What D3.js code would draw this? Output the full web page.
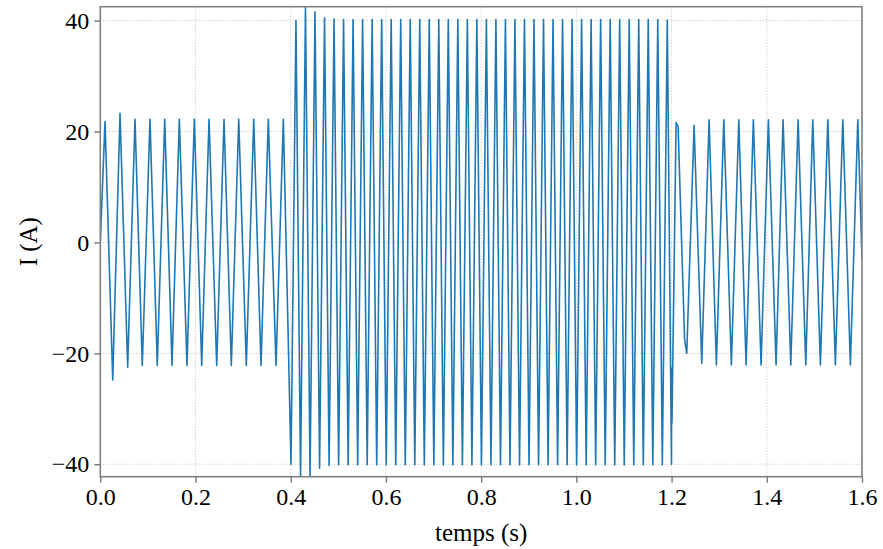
<!DOCTYPE html>
<html>
<head>
<meta charset="utf-8">
<script src="https://cdn.jsdelivr.net/npm/d3@7"></script>
<style>
  html, body { margin: 0; padding: 0; background: #fff; }
  svg { display: block; }
</style>
</head>
<body>
<svg id="chart" width="883" height="549"></svg>
<script>
// ---- data (vertices of the current waveform) ----
const timeS = [
  0.0000, 0.0099, 0.0261, 0.0414, 0.0575, 0.0729, 0.0882, 0.1044, 0.1197, 0.1353,
  0.1506, 0.1660, 0.1821, 0.1975, 0.2130, 0.2284, 0.2445, 0.2599, 0.2752, 0.2908,
  0.3067, 0.3223, 0.3376, 0.3529, 0.3691, 0.3845,
  0.4006, 0.4110, 0.4206, 0.4310, 0.4406, 0.4510, 0.4606, 0.4710, 0.4806, 0.4910,
  0.5006, 0.5110, 0.5206, 0.5310, 0.5406, 0.5510, 0.5606, 0.5710, 0.5806, 0.5910,
  0.6006, 0.6110, 0.6206, 0.6310, 0.6406, 0.6510, 0.6606, 0.6710, 0.6806, 0.6910,
  0.7006, 0.7110, 0.7206, 0.7310, 0.7406, 0.7510, 0.7606, 0.7710, 0.7806, 0.7910,
  0.8006, 0.8110, 0.8206, 0.8310, 0.8406, 0.8510, 0.8606, 0.8710, 0.8806, 0.8910,
  0.9006, 0.9110, 0.9206, 0.9310, 0.9406, 0.9510, 0.9606, 0.9710, 0.9806, 0.9910,
  1.0006, 1.0110, 1.0206, 1.0310, 1.0406, 1.0510, 1.0606, 1.0710, 1.0806, 1.0910,
  1.1006, 1.1110, 1.1206, 1.1310, 1.1406, 1.1510, 1.1606, 1.1710, 1.1806, 1.1910,
  1.1998, 1.2002, 1.2008, 1.2095, 1.2137, 1.2273, 1.2319,
  1.2473, 1.2634, 1.2788, 1.2941, 1.3097, 1.3256, 1.3412, 1.3565, 1.3718, 1.3880,
  1.4034, 1.4195, 1.4342, 1.4504, 1.4658, 1.4819, 1.4966, 1.5126, 1.5282, 1.5441,
  1.5597, 1.5756, 1.5912, 1.6000
];
const currentA = [
  0.0, 21.8, -24.8, 23.3, -22.5, 22.2, -22.2, 22.2, -22.2, 22.2,
  -22.2, 22.2, -22.2, 22.2, -22.2, 22.2, -22.2, 22.2, -22.2, 22.2,
  -22.2, 22.2, -22.2, 22.2, -22.2, 22.2,
  -40.0, 40.0, -42.0, 42.4, -42.1, 41.6, -40.7, 40.5, -40.2, 40.3,
  -40.1, 40.2, -40.1, 40.2, -40.1, 40.2, -40.1, 40.2, -40.1, 40.2,
  -40.1, 40.2, -40.1, 40.2, -40.1, 40.2, -40.1, 40.2, -40.1, 40.2,
  -40.1, 40.2, -40.1, 40.2, -40.1, 40.2, -40.1, 40.2, -40.1, 40.2,
  -40.1, 40.2, -40.1, 40.2, -40.1, 40.2, -40.1, 40.2, -40.1, 40.2,
  -40.1, 40.2, -40.1, 40.2, -40.1, 40.2, -40.1, 40.2, -40.1, 40.2,
  -40.1, 40.2, -40.1, 40.2, -40.1, 40.2, -40.1, 40.2, -40.1, 40.2,
  -40.1, 40.2, -40.1, 40.2, -40.1, 40.2, -40.1, 40.2, -40.1, 40.1,
  -40.0, -22.7, -32.6, 21.6, 20.9, -17.5, -20.0,
  21.1, -21.8, 22.1, -22.1, 22.1, -22.1, 22.1, -22.1, 22.1, -22.1,
  22.1, -22.1, 22.1, -22.1, 22.1, -22.1, 22.1, -22.1, 22.1, -22.1,
  22.1, -22.1, 22.1, -3.0
];
const xTicks = [0.0, 0.2, 0.4, 0.6, 0.8, 1.0, 1.2, 1.4, 1.6];
const yTicks = [-40, -20, 0, 20, 40];
const xLabel = "temps (s)";
const yLabel = "I (A)";

// ---- layout ----
const W = 883, H = 549;
const m = { left: 100.3, right: 883 - 862, top: 6.7, bottom: 549 - 476.7 };
const iw = W - m.left - m.right, ih = H - m.top - m.bottom;
const FONT = "'Liberation Serif', 'Times New Roman', serif";
const frameColor = "#808080";

const svg = d3.select("#chart");
const g = svg.append("g").attr("transform", `translate(${m.left},${m.top})`);

const x = d3.scaleLinear().domain([0, 1.6]).range([0, iw]);
const y = d3.scaleLinear().domain([-42.24, 42.5]).range([ih, 0]);

// grid
const grid = g.append("g").attr("class", "grid");
grid.selectAll("line.gx").data(xTicks).join("line")
  .attr("x1", d => x(d)).attr("x2", d => x(d))
  .attr("y1", 0).attr("y2", ih)
  .attr("stroke", "#b0b0b0").attr("stroke-width", 0.8)
  .attr("stroke-dasharray", "1,2");
grid.selectAll("line.gy").data(yTicks).join("line")
  .attr("x1", 0).attr("x2", iw)
  .attr("y1", d => y(d)).attr("y2", d => y(d))
  .attr("stroke", "#b0b0b0").attr("stroke-width", 0.8)
  .attr("stroke-dasharray", "1,2");

// clip
svg.append("defs").append("clipPath").attr("id", "clip")
  .append("rect").attr("x", 0).attr("y", 0).attr("width", iw).attr("height", ih);

const data = timeS.map((t, i) => ({ t, v: currentA[i] }));
g.append("path")
  .datum(data)
  .attr("clip-path", "url(#clip)")
  .attr("fill", "none")
  .attr("stroke", "#1f77b4")
  .attr("stroke-width", 1.6)
  .attr("stroke-linejoin", "round")
  .attr("d", d3.line().x(d => x(d.t)).y(d => y(d.v)));

// axes
const fmtY = d => d < 0 ? "\u2212" + Math.abs(d) : String(d);
const xAxis = g.append("g").attr("transform", `translate(0,${ih})`)
  .call(d3.axisBottom(x).tickValues(xTicks).tickFormat(d3.format(".1f")).tickSizeOuter(0).tickSize(6).tickPadding(5));
const yAxis = g.append("g")
  .call(d3.axisLeft(y).tickValues(yTicks).tickFormat(fmtY).tickSizeOuter(0).tickSize(6).tickPadding(5));
[xAxis, yAxis].forEach(a => {
  a.select(".domain").remove();
  a.selectAll(".tick line").attr("stroke", frameColor).attr("stroke-width", 1.5);
  a.selectAll(".tick text").attr("fill", "#000").style("font-family", FONT).style("font-size", "24px");
});

// frame
g.append("rect").attr("x", 0).attr("y", 0).attr("width", iw).attr("height", ih)
  .attr("fill", "none").attr("stroke", frameColor).attr("stroke-width", 1.6);

// labels
svg.append("text").attr("x", m.left + iw / 2).attr("y", 541)
  .attr("text-anchor", "middle").style("font-family", FONT).style("font-size", "25px")
  .text(xLabel);
svg.append("text").attr("transform", `translate(37,${m.top + ih / 2}) rotate(-90)`)
  .attr("text-anchor", "middle").style("font-family", FONT).style("font-size", "25px")
  .text(yLabel);
</script>
</body>
</html>
